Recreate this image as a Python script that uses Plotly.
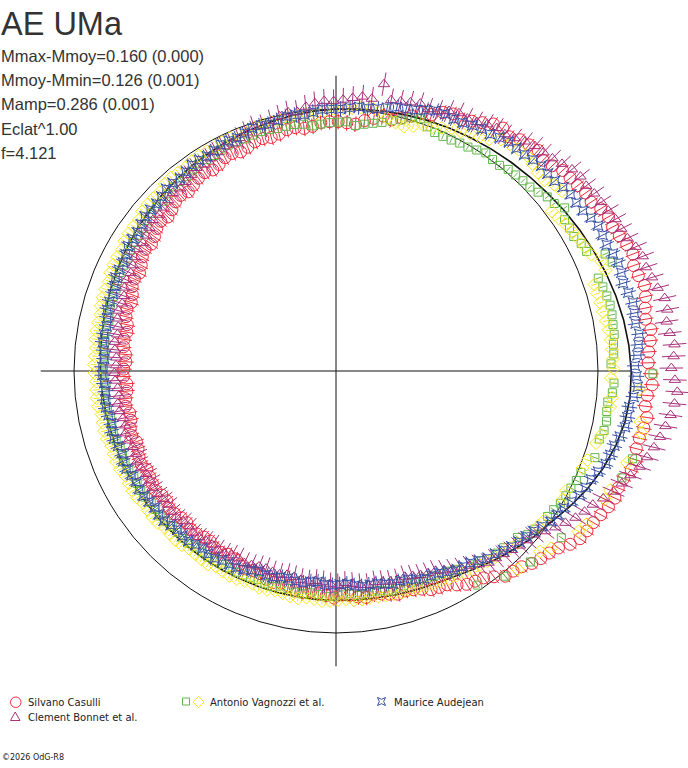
import numpy as np
import plotly.graph_objects as go

# ---------------- data ----------------
# position angle of each sample (degrees, clockwise from top), two interleaved sample sets
ANGLE_A = [0, 4, 8, 12, 16, 20, 24, 28, 32, 36, 40, 44, 48, 52, 56, 60, 64, 68, 72, 76,
           80, 84, 88, 92, 96, 100, 104, 108, 112, 116, 120, 124, 128, 132, 136, 140, 144, 148, 152, 156,
           160, 164, 168, 172, 176, 180, 184, 188, 192, 196, 200, 204, 208, 212, 216, 220, 224, 228, 232, 236,
           240, 244, 248, 252, 256, 260, 264, 268, 272, 276, 280, 284, 288, 292, 296, 300, 304, 308, 312, 316,
           320, 324, 328, 332, 336, 340, 344, 348, 352, 356]
ANGLE_B = [2, 6, 10, 14, 18, 22, 26, 30, 34, 38, 42, 46, 50, 54, 58, 62, 66, 70, 74, 78,
           82, 86, 90, 94, 98, 102, 106, 110, 114, 118, 122, 126, 130, 134, 138, 142, 146, 150, 154, 158,
           162, 166, 170, 174, 178, 182, 186, 190, 194, 198, 202, 206, 210, 214, 218, 222, 226, 230, 234, 238,
           242, 246, 250, 254, 258, 262, 266, 270, 274, 278, 282, 286, 290, 294, 298, 302, 306, 310, 314, 318,
           322, 326, 330, 334, 338, 342, 346, 350, 354, 358]

# radial value (1.0 = mean magnitude circle)
casulli_a = [0.952, 0.945, 0.975, 0.982, 1.015, 1.045, 1.078, 1.085, 1.118, 1.112,
             1.135, 1.128, 1.155, 1.162, 1.168, 1.195, 1.198, 1.218, 1.210, 1.215,
             1.198, 1.205, 1.192, 1.208, 1.188, 1.195, 1.184, 1.188, 1.166, 1.162,
             1.140, 1.130, 1.085, 1.060, 1.030, 1.015, 0.970, 0.955, 0.920, 0.910,
             0.886, 0.884, 0.868, 0.872, 0.858, 0.866, 0.850, 0.856, 0.840, 0.842,
             0.826, 0.830, 0.815, 0.820, 0.808, 0.818, 0.812, 0.822, 0.814, 0.826,
             0.818, 0.824, 0.812, 0.818, 0.805, 0.814, 0.802, 0.812, 0.803, 0.816,
             0.812, 0.828, 0.824, 0.842, 0.838, 0.858, 0.855, 0.874, 0.870, 0.890,
             0.886, 0.904, 0.900, 0.918, 0.912, 0.928, 0.925, 0.940, 0.934, 0.950]
casulli_b = [0.948, 0.962, 0.990, 0.998, 1.040, 1.068, 1.072, 1.100, 1.125, 1.128,
             1.142, 1.138, 1.158, 1.170, 1.185, 1.190, 1.210, 1.205, 1.222, 1.204,
             1.212, 1.196, 1.202, 1.192, 1.200, 1.186, 1.194, 1.172, 1.170, 1.150,
             1.136, 1.112, 1.070, 1.048, 1.020, 0.990, 0.962, 0.938, 0.915, 0.895,
             0.880, 0.876, 0.864, 0.866, 0.852, 0.858, 0.846, 0.850, 0.836, 0.838,
             0.824, 0.826, 0.812, 0.818, 0.810, 0.820, 0.814, 0.824, 0.816, 0.822,
             0.814, 0.820, 0.808, 0.815, 0.804, 0.810, 0.800, 0.810, 0.806, 0.818,
             0.816, 0.832, 0.830, 0.846, 0.846, 0.864, 0.862, 0.880, 0.878, 0.895,
             0.894, 0.908, 0.906, 0.920, 0.918, 0.930, 0.930, 0.942, 0.938, 0.952]

bonnet_a = [1.036, 1.052, 1.110, 1.058, 1.070, 1.066, 1.090, 1.092, 1.112, 1.120,
            1.146, 1.158, 1.185, 1.188, 1.200, 1.214, 1.222, 1.250, 1.258, 1.285,
            1.276, 1.296, 1.280, 1.305, 1.288, 1.262, 1.232, 1.192, 1.155, 1.105,
            1.072, 1.028, 0.982, 0.968, 0.948, 0.935, 0.902, 0.878, 0.852, 0.843,
            0.828, 0.830, 0.820, 0.822, 0.810, 0.814, 0.805, 0.808, 0.800, 0.804,
            0.802, 0.812, 0.808, 0.818, 0.816, 0.824, 0.818, 0.828, 0.822, 0.830,
            0.824, 0.834, 0.828, 0.838, 0.832, 0.842, 0.836, 0.846, 0.840, 0.852,
            0.848, 0.862, 0.858, 0.872, 0.874, 0.890, 0.890, 0.906, 0.906, 0.922,
            0.922, 0.940, 0.942, 0.958, 0.962, 0.982, 0.985, 1.004, 1.015, 1.032]
bonnet_b = [1.044, 1.048, 1.055, 1.064, 1.060, 1.082, 1.086, 1.104, 1.110, 1.135,
            1.150, 1.170, 1.192, 1.196, 1.206, 1.216, 1.238, 1.248, 1.268, 1.286,
            1.282, 1.290, 1.294, 1.298, 1.275, 1.248, 1.215, 1.172, 1.130, 1.090,
            1.050, 1.005, 0.975, 0.958, 0.940, 0.918, 0.890, 0.866, 0.848, 0.835,
            0.832, 0.824, 0.826, 0.815, 0.818, 0.808, 0.810, 0.802, 0.806, 0.800,
            0.808, 0.806, 0.815, 0.814, 0.822, 0.818, 0.826, 0.820, 0.828, 0.824,
            0.832, 0.826, 0.836, 0.830, 0.840, 0.834, 0.844, 0.840, 0.848, 0.846,
            0.858, 0.856, 0.868, 0.868, 0.882, 0.884, 0.898, 0.900, 0.914, 0.916,
            0.930, 0.934, 0.950, 0.954, 0.972, 0.976, 0.995, 1.000, 1.025, 1.030]

vagnozzi_sq_a = [0.952, 0.948, 0.965, 0.990, 1.015, 0.985, 0.985, 0.992, 1.010, 1.003,
                 1.015, 1.020, 1.045, 1.072, 1.045, 1.055, 1.120, 1.062, 1.073, 1.075,
                 1.071, 1.062, 1.210, 1.058, 1.045, 1.048, 1.180, 1.165, 1.008, 0.998,
                 0.985, 1.070, 0.962, 1.040, 0.928, 0.912, 0.980, 0.878, 0.868, 0.862,
                 0.858, 0.864, 0.852, 0.860, 0.855, 0.862, 0.852, 0.858, 0.848, 0.856,
                 0.852, 0.858, 0.856, 0.862, 0.858, 0.866, 0.862, 0.870, 0.866, 0.874,
                 0.870, 0.878, 0.874, 0.882, 0.878, 0.886, 0.880, 0.888, 0.884, 0.892,
                 0.888, 0.898, 0.896, 0.906, 0.904, 0.914, 0.915, 0.926, 0.925, 0.938,
                 0.935, 0.948, 0.945, 0.955, 0.952, 0.958, 0.952, 0.954, 0.940, 0.948]
vagnozzi_sq_b = [0.940, 0.956, 0.978, 1.008, 0.995, 0.984, 0.990, 1.000, 1.004, 1.012,
                 1.018, 1.030, 1.050, 1.046, 1.043, 1.060, 1.133, 1.068, 1.076, 1.072,
                 1.064, 1.050, 1.062, 1.044, 1.050, 1.038, 1.042, 1.012, 1.002, 0.994,
                 0.980, 0.970, 0.940, 0.930, 1.015, 0.905, 0.888, 0.872, 0.864, 0.858,
                 0.860, 0.856, 0.858, 0.852, 0.860, 0.856, 0.860, 0.850, 0.858, 0.850,
                 0.856, 0.854, 0.860, 0.860, 0.864, 0.864, 0.868, 0.868, 0.872, 0.872,
                 0.876, 0.876, 0.880, 0.880, 0.884, 0.884, 0.886, 0.886, 0.890, 0.890,
                 0.895, 0.897, 0.902, 0.905, 0.910, 0.914, 0.920, 0.926, 0.932, 0.937,
                 0.942, 0.946, 0.950, 0.954, 0.955, 0.956, 0.953, 0.950, 0.944, 0.950]

vagnozzi_di_a = [1.005, 1.018, 0.985, 0.968, 0.995, 1.012, 1.030, 1.048, 1.085, 1.095,
                 1.090, 1.078, 1.102, 1.030, 1.047, 1.062, 1.095, 1.040, 1.042, 1.048,
                 1.055, 1.058, 1.050, 1.058, 1.178, 1.042, 1.165, 1.011, 1.137, 0.995,
                 1.110, 0.972, 1.040, 0.948, 0.935, 0.922, 0.912, 0.902, 0.893, 0.886,
                 0.882, 0.878, 0.876, 0.878, 0.874, 0.880, 0.872, 0.878, 0.870, 0.878,
                 0.874, 0.882, 0.876, 0.884, 0.880, 0.890, 0.886, 0.896, 0.892, 0.902,
                 0.898, 0.908, 0.904, 0.914, 0.910, 0.920, 0.916, 0.924, 0.920, 0.928,
                 0.925, 0.934, 0.932, 0.942, 0.940, 0.950, 0.948, 0.960, 0.958, 0.970,
                 0.966, 0.975, 0.970, 0.978, 0.972, 0.982, 0.978, 0.990, 0.985, 1.000]
vagnozzi_di_b = [1.010, 1.000, 0.975, 0.980, 1.000, 1.026, 1.040, 1.060, 1.090, 1.099,
                 1.080, 1.095, 1.024, 1.040, 1.055, 1.071, 1.098, 1.040, 1.044, 1.052,
                 1.057, 1.059, 1.160, 1.055, 1.190, 1.030, 1.018, 1.140, 0.990, 1.120,
                 0.978, 1.064, 0.955, 1.027, 0.928, 0.918, 0.906, 0.896, 0.890, 0.882,
                 0.880, 0.876, 0.878, 0.872, 0.878, 0.874, 0.880, 0.872, 0.876, 0.872,
                 0.880, 0.878, 0.886, 0.882, 0.888, 0.888, 0.894, 0.894, 0.900, 0.900,
                 0.906, 0.906, 0.912, 0.912, 0.918, 0.918, 0.922, 0.922, 0.926, 0.927,
                 0.932, 0.934, 0.940, 0.942, 0.948, 0.950, 0.958, 0.960, 0.968, 0.968,
                 0.972, 0.973, 0.976, 0.975, 0.980, 0.980, 0.986, 0.988, 0.995, 1.002]

audejean_a = [1.000, 1.012, 1.014, 1.034, 1.042, 1.064, 1.062, 1.072, 1.078, 1.096,
              1.095, 1.108, 1.106, 1.121, 1.124, 1.144, 1.140, 1.154, 1.146, 1.163,
              1.158, 1.159, 1.141, 1.153, 1.128, 1.124, 1.100, 1.089, 1.058, 1.044,
              1.015, 1.002, 0.971, 0.956, 0.936, 0.920, 0.894, 0.888, 0.866, 0.861,
              0.841, 0.840, 0.826, 0.828, 0.814, 0.818, 0.808, 0.818, 0.812, 0.822,
              0.818, 0.836, 0.841, 0.852, 0.848, 0.859, 0.856, 0.870, 0.866, 0.876,
              0.872, 0.882, 0.876, 0.886, 0.880, 0.889, 0.883, 0.892, 0.886, 0.897,
              0.892, 0.904, 0.901, 0.914, 0.912, 0.926, 0.924, 0.938, 0.936, 0.950,
              0.946, 0.960, 0.956, 0.970, 0.966, 0.980, 0.976, 0.990, 0.986, 1.000]
audejean_b = [1.006, 1.010, 1.024, 1.036, 1.054, 1.066, 1.064, 1.078, 1.088, 1.094,
              1.103, 1.105, 1.116, 1.120, 1.136, 1.142, 1.148, 1.152, 1.155, 1.160,
              1.166, 1.152, 1.147, 1.140, 1.126, 1.112, 1.095, 1.072, 1.052, 1.028,
              1.008, 0.985, 0.962, 0.948, 0.926, 0.906, 0.890, 0.876, 0.862, 0.852,
              0.838, 0.834, 0.826, 0.822, 0.815, 0.816, 0.810, 0.817, 0.814, 0.822,
              0.826, 0.842, 0.844, 0.852, 0.852, 0.860, 0.862, 0.870, 0.870, 0.876,
              0.876, 0.882, 0.880, 0.886, 0.884, 0.888, 0.886, 0.892, 0.890, 0.896,
              0.897, 0.904, 0.906, 0.914, 0.918, 0.926, 0.930, 0.938, 0.942, 0.950,
              0.952, 0.960, 0.962, 0.970, 0.972, 0.980, 0.982, 0.990, 0.992, 1.000]

# model (fitted) curve
FIT_ANGLE = [0, 5, 10, 15, 20, 25, 30, 35, 40, 45, 50, 55, 60, 65, 70, 75, 80, 85, 90, 95,
             100, 105, 110, 115, 120, 125, 130, 135, 140, 145, 150, 155, 160, 165, 170, 175, 180, 185, 190, 195,
             200, 205, 210, 215, 220, 225, 230, 235, 240, 245, 250, 255, 260, 265, 270, 275, 280, 285, 290, 295,
             300, 305, 310, 315, 320, 325, 330, 335, 340, 345, 350, 355, 360]
FIT_R = [1.000, 1.004, 1.008, 1.013, 1.018, 1.023, 1.028, 1.034, 1.040, 1.047,
         1.055, 1.065, 1.075, 1.085, 1.096, 1.106, 1.115, 1.122, 1.127, 1.127,
         1.120, 1.105, 1.085, 1.060, 1.032, 1.005, 0.985, 0.962, 0.942, 0.922,
         0.906, 0.896, 0.889, 0.884, 0.880, 0.877, 0.876, 0.875, 0.874, 0.874,
         0.874, 0.874, 0.875, 0.876, 0.877, 0.878, 0.880, 0.882, 0.884, 0.886,
         0.888, 0.890, 0.893, 0.896, 0.899, 0.902, 0.906, 0.910, 0.915, 0.920,
         0.926, 0.932, 0.938, 0.944, 0.951, 0.957, 0.964, 0.970, 0.977, 0.983,
         0.989, 0.995, 1.000]

STATS = ["Mmax-Mmoy=0.160 (0.000)", "Mmoy-Mmin=0.126 (0.001)", "Mamp=0.286 (0.001)",
         "Eclat^1.00", "f=4.121"]

# ---------------- styling ----------------
W, H = 688, 768
CX, CY, R0 = 336, 371, 262.0   # centre and mean-circle radius in px

series = [
    # r (set A), r (set B), angle offset, colour, symbol, size, err half-width
    (casulli_a, casulli_b, 0.5, "#ee2c3c", "circle-open", 12, 0.030),
    (vagnozzi_sq_a, vagnozzi_sq_b, 2.5, "#62b84a", "square-open", 8, 0.012),
    (vagnozzi_di_a, vagnozzi_di_b, 3.5, "#f7e81c", "diamond-open", 10, 0.012),
    (bonnet_a, bonnet_b, 1.5, "#a8307c", "triangle-up-open", 10, 0.045),
    (audejean_a, audejean_b, 1.0, "#3650a4", "star-square-open", 9, 0.030),
]


def xy(angle_deg, r):
    a = np.deg2rad(np.asarray(angle_deg, dtype=float))
    r = np.asarray(r, dtype=float)
    return r * np.sin(a), r * np.cos(a)


fig = go.Figure()

# model curve
fx, fy = xy(FIT_ANGLE, FIT_R)
fig.add_trace(go.Scatter(x=fx, y=fy, mode="lines", line=dict(color="#111111", width=1.6),
                         hoverinfo="skip"))

for ra, rb, off, col, sym, size, err in series:
    ang = np.concatenate([np.asarray(ANGLE_A, float), np.asarray(ANGLE_B, float)]) + off
    rr = np.concatenate([np.asarray(ra, float), np.asarray(rb, float)])
    # radial error bars
    x0, y0 = xy(ang, rr - err)
    x1, y1 = xy(ang, rr + err)
    ex, ey = [], []
    for a, b, c, d in zip(x0, y0, x1, y1):
        ex += [a, c, None]
        ey += [b, d, None]
    fig.add_trace(go.Scatter(x=ex, y=ey, mode="lines", line=dict(color=col, width=1),
                             hoverinfo="skip"))
    px_, py_ = xy(ang, rr)
    fig.add_trace(go.Scatter(x=px_, y=py_, mode="markers",
                             marker=dict(symbol=sym, size=size, color=col,
                                         line=dict(color=col, width=1))))

# mean circle and axis cross
L = 1.127
fig.add_shape(type="circle", xref="x", yref="y", x0=-1, x1=1, y0=-1, y1=1,
              line=dict(color="#111111", width=1), layer="below")
fig.add_shape(type="line", xref="x", yref="y", x0=-L, x1=L, y0=0, y1=0,
              line=dict(color="#111111", width=1), layer="below")
fig.add_shape(type="line", xref="x", yref="y", x0=0, x1=0, y0=-L, y1=L,
              line=dict(color="#111111", width=1), layer="below")


def px(x):
    return x / W


def py(y):
    return 1 - y / H


ann = []
ann.append(dict(text="AE UMa", x=px(-1), y=py(24), xanchor="left", yanchor="middle",
                font=dict(family="Liberation Sans, Arial", size=32.5, color="#333333")))
for i, s in enumerate(STATS):
    ann.append(dict(text=s, x=px(-1), y=py(56 + 24.2 * i), xanchor="left", yanchor="middle",
                    font=dict(family="Liberation Sans, Arial", size=16.5, color="#333333")))

leg_font = dict(family="DejaVu Sans", size=10, color="#222222")
for text, x, y in [("Silvano Casulli", 26, 702), ("Antonio Vagnozzi et al.", 208, 702),
                   ("Maurice Audejean", 392, 702), ("Clement Bonnet et al.", 26, 717)]:
    ann.append(dict(text=text, x=px(x), y=py(y), xanchor="left", yanchor="middle",
                    font=leg_font))
ann.append(dict(text="\u00a92026 OdG-R8", x=px(0), y=py(757), xanchor="left", yanchor="middle",
                font=dict(family="DejaVu Sans", size=8, color="#222222")))
for a in ann:
    a.update(xref="paper", yref="paper", showarrow=False)


# legend symbols (paper coordinates)
def pth(points):
    return "M " + " L ".join(f"{px(a)},{py(b)}" for a, b in points) + " Z"


shapes_leg = [
    dict(type="circle", x0=px(10.5), x1=px(21), y0=py(697), y1=py(707.5),
         line=dict(color="#ee2c3c", width=1)),
    dict(type="rect", x0=px(182.5), x1=px(189.5), y0=py(698), y1=py(705),
         line=dict(color="#62b84a", width=1)),
    dict(type="path", path=pth([(198.5, 696.5), (204, 702), (198.5, 707.5), (193, 702)]),
         line=dict(color="#f7e81c", width=1)),
    dict(type="path", path=pth([(10.5, 720.5), (20, 720.5), (15.2, 712)]),
         line=dict(color="#a8307c", width=1)),
    dict(type="path", path=pth([(377.5, 697.5), (381.5, 699.3), (385.5, 697.5), (383.7, 701.5),
                                (385.5, 705.5), (381.5, 703.7), (377.5, 705.5), (379.3, 701.5)]),
         line=dict(color="#3650a4", width=1)),
]
for s in shapes_leg:
    s.update(xref="paper", yref="paper")
    fig.add_shape(**s)

fig.update_layout(
    width=W, height=H, margin=dict(l=0, r=0, t=0, b=0),
    paper_bgcolor="white", plot_bgcolor="white", showlegend=False, hovermode=False,
    xaxis=dict(range=[-CX / R0, (W - CX) / R0], visible=False, fixedrange=True),
    yaxis=dict(range=[-(H - CY) / R0, CY / R0], visible=False, fixedrange=True),
    annotations=ann,
)

fig.write_html("out.html", config={"displayModeBar": False, "staticPlot": True},
               post_script="document.body.style.margin='0';document.body.style.overflow='hidden';")
